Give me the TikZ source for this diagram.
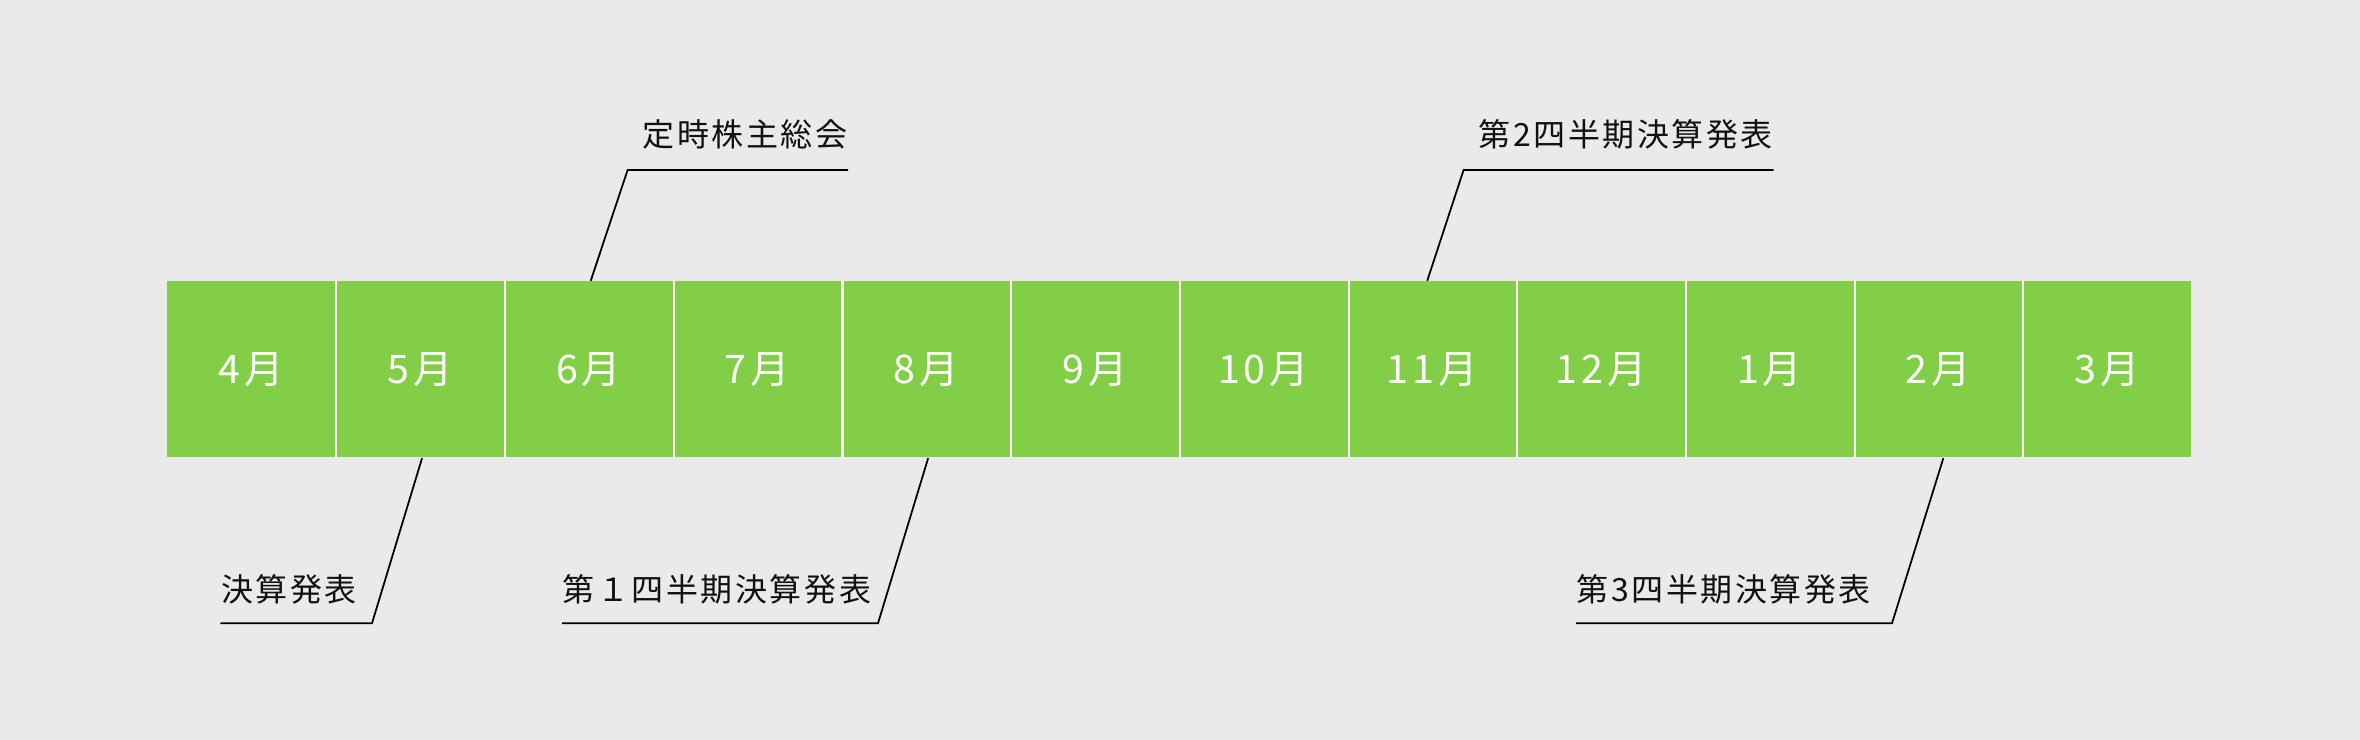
\documentclass[tikz,border=0pt]{standalone}
\usepackage{fontspec}
\setmainfont{Noto Sans CJK JP}
\newfontfamily\labelfont[LetterSpace=8]{Noto Sans CJK JP}
\newfontfamily\monthfont[LetterSpace=10]{Noto Sans CJK JP}
\usepackage{tikz}
\usetikzlibrary{positioning,calc}
\definecolor{bgc}{HTML}{EAEAEA}
\definecolor{monthc}{HTML}{82CE46}
\definecolor{inkc}{HTML}{111111}
\tikzset{
  monthbox/.style={fill=monthc,inner sep=0pt,minimum width=1.687cm,minimum height=1.76cm,
    text=white,font=\monthfont\fontsize{11.2pt}{13pt}\selectfont},
  sepline/.style={white,line width=0.6pt},
  event/.style={inner sep=0pt,text=inkc,font=\labelfont\fontsize{9.1pt}{11pt}\selectfont},
  leader/.style={black,line width=0.5pt}
}
\begin{document}
\begin{tikzpicture}
  \fill[bgc] (0,0) rectangle (23.6,7.4);
  \useasboundingbox (0,0) rectangle (23.6,7.4);
  % months
  \foreach \i/\m in {1/4,2/5,3/6,4/7,5/8,6/9,7/10,8/11,9/12,10/1,11/2,12/3}
    \node[monthbox] (m\i) at ({1.67+(\i-0.5)*1.687},3.705) {\m 月};
  \foreach \i in {1,...,11}
    \draw[sepline] (m\i.north east) -- (m\i.south east);
  % events above
  \coordinate (agmbend) at (6.276,5.70);
  \coordinate (agmend) at (8.48,5.70);
  \node[event,anchor=base east] (agm) at (8.48,5.93) {定時株主総会};
  \draw[leader] ($(m3.north)+(0.02,0)$) -- (agmbend) -- (agmend);
  \coordinate (q2bend) at (14.636,5.70);
  \coordinate (q2end) at (17.736,5.70);
  \node[event,anchor=base east] (q2) at (17.736,5.93) {第2四半期決算発表};
  \draw[leader] ($(m8.north)+(-0.05,0)$) -- (q2bend) -- (q2end);
  % events below
  \coordinate (fybend) at (3.72,1.167);
  \coordinate (fyend) at (2.204,1.167);
  \node[event,anchor=base west] (fy) at (2.204,1.38) {決算発表};
  \draw[leader] ($(m2.south)+(0.02,0)$) -- (fybend) -- (fyend);
  \coordinate (q1bend) at (8.78,1.167);
  \coordinate (q1end) at (5.62,1.167);
  \node[event,anchor=base west] (q1) at (5.62,1.38) {第１四半期決算発表};
  \draw[leader] ($(m5.south)+(0.02,0)$) -- (q1bend) -- (q1end);
  \coordinate (q3bend) at (18.92,1.167);
  \coordinate (q3end) at (15.76,1.167);
  \node[event,anchor=base west] (q3) at (15.76,1.38) {第3四半期決算発表};
  \draw[leader] ($(m11.south)+(0.05,0)$) -- (q3bend) -- (q3end);
\end{tikzpicture}
\end{document}
